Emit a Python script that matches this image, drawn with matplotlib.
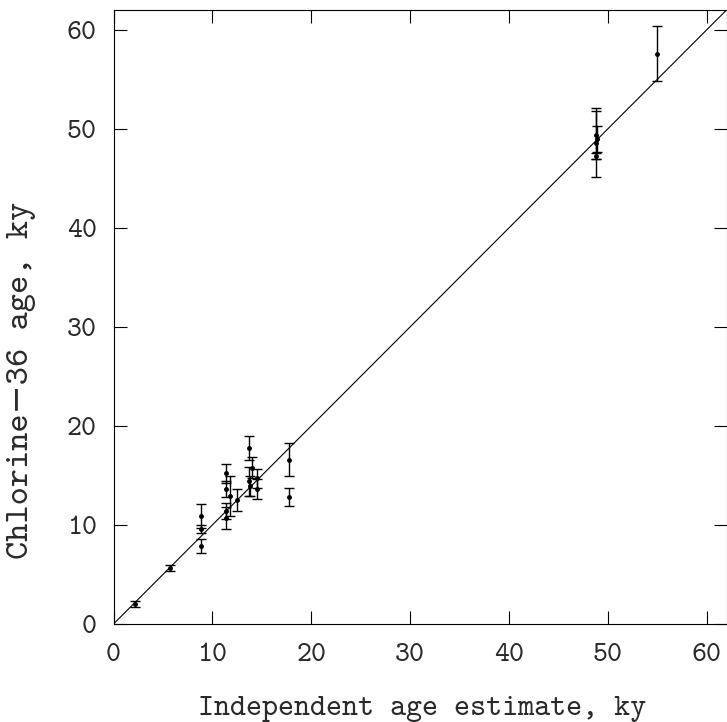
import matplotlib
matplotlib.use("Agg")
import matplotlib.pyplot as plt
import numpy as np

# independent age estimate (ky), chlorine-36 age (ky), 1-sigma error (ky)
indep_age = [2.2, 5.7, 8.8, 8.8, 8.8, 11.4, 11.4, 11.4, 11.4, 11.8, 12.5,
             13.7, 13.7, 13.8, 14.0, 14.5, 14.5, 17.7, 17.7,
             48.8, 48.8, 48.9, 48.8, 55.0]
cl36_age = [2.0, 5.7, 10.9, 9.6, 7.9, 15.2, 13.6, 11.4, 10.7, 12.9, 12.5,
            17.8, 14.4, 13.9, 15.8, 14.7, 13.6, 16.6, 12.8,
            49.4, 48.6, 49.0, 47.3, 57.6]
cl36_err = [0.3, 0.3, 1.2, 0.4, 0.7, 1.0, 0.8, 0.8, 1.1, 2.0, 1.1,
            1.2, 1.5, 1.0, 1.1, 1.0, 1.0, 1.7, 0.9,
            2.4, 3.5, 1.3, 0.3, 2.8]

ticks = [0, 10, 20, 30, 40, 50, 60]
tick_labels = ['0', '10', '20', '30', '40', '50', '60']

plt.rcParams['font.family'] = ['cmtt10', 'DejaVu Serif']
txt_color = '#2a2a2a'

fig = plt.figure(figsize=(7.27, 7.22), dpi=100)
ax = fig.add_axes([113.5 / 727, 98 / 722, 613 / 727, 614 / 722])

# 1:1 line and the measured ages
ax.plot([0, 62], [0, 62], color='black', lw=0.8)
ax.errorbar(indep_age, cl36_age, yerr=cl36_err, fmt='o', color='black',
            ms=2.5, elinewidth=1.0, capsize=3.5, capthick=1.0)

ax.set_xlim(0, 62)
ax.set_ylim(0, 62)
ax.set_xticks(ticks)
ax.set_xticklabels(tick_labels)
ax.set_yticks(ticks)
ax.set_yticklabels(tick_labels)
ax.tick_params(direction='in', length=9.5, width=0.8, top=True, right=True,
               labelsize=20.5, labelcolor=txt_color)
ax.tick_params(axis='x', pad=14)
ax.tick_params(axis='y', pad=12)
for s in ax.spines.values():
    s.set_linewidth(0.8)

ax.set_xlabel('Independent age estimate, ky', fontsize=22, color=txt_color)
ax.set_ylabel('Chlorine\u221236 age, ky', fontsize=25, color=txt_color)
ax.xaxis.set_label_coords(0.504, -0.117)
ax.yaxis.set_label_coords(-0.127, 0.396)

fig.savefig('out.png', dpi=100)
